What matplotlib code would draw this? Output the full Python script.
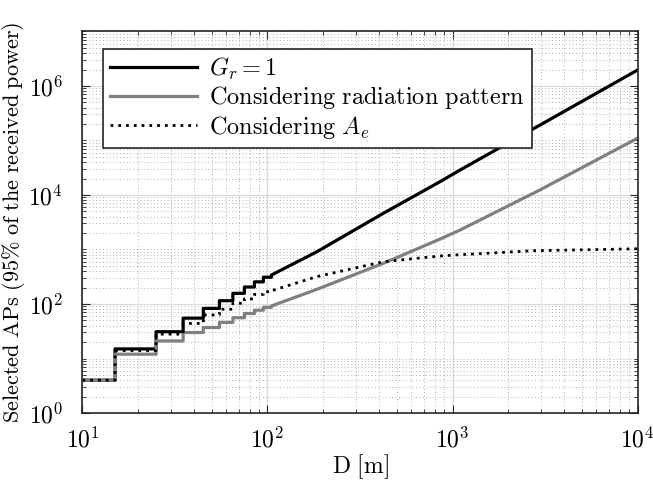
import numpy as np
import matplotlib
matplotlib.use("Agg")
import matplotlib.pyplot as plt
from matplotlib import ticker

plt.rcParams['mathtext.fontset'] = 'cm'

# step region: breakpoints every 10 m, one value per interval
step_edges = [10, 15, 25, 35, 45, 55, 65, 75, 85, 95, 105]
gr1_steps = [4, 15, 31, 55, 83, 115, 157, 205, 255, 310]
rad_steps = [4, 12, 21, 30, 37, 46, 56, 67, 77, 87]
ae_steps = [4, 14, 28, 44, 63, 80, 103, 124, 150, 168]

# smooth region
gr1_d = [105, 185, 423, 855, 1100, 2970, 10000]
gr1_n = [340, 910, 4620, 17500, 28800, 192000, 1960000]
rad_d = [105, 185, 423, 855, 1100, 2970, 10000]
rad_n = [92, 186, 558, 1550, 2280, 12400, 110000]
ae_d = [105, 185, 423, 855, 1050, 2750, 10000]
ae_n = [175, 318, 597, 760, 795, 950, 1030]


def build(steps, d, n):
    xs, ys = [], []
    for i, v in enumerate(steps):
        xs += [step_edges[i], step_edges[i + 1]]
        ys += [v, v]
    xs += d
    ys += n
    return np.array(xs), np.array(ys)


def pow10(v, pos):
    return r'$10^{%d}$' % int(round(np.log10(v)))


fig = plt.figure(figsize=(6.53, 4.86), dpi=100)
ax = fig.add_axes([0.1263, 0.1502, 0.85, 0.785])

x, y = build(gr1_steps, gr1_d, gr1_n)
ax.plot(x, y, color='black', lw=2.3, label=r'$G_r = 1$')
x, y = build(rad_steps, rad_d, rad_n)
ax.plot(x, y, color='#808080', lw=2.3,
        label=r'$\mathrm{Considering\ radiation\ pattern}$')
x, y = build(ae_steps, ae_d, ae_n)
ax.plot(x, y, color='black', lw=2.0, ls=(0, (1, 1.8)),
        label=r'$\mathrm{Considering\ }A_e$')

ax.set_xscale('log')
ax.set_yscale('log')
ax.set_xlim(10, 1e4)
ax.set_ylim(1, 1e7)

ax.xaxis.set_major_locator(ticker.LogLocator(base=10, numticks=20))
ax.xaxis.set_minor_locator(ticker.LogLocator(base=10, subs=np.arange(2, 10), numticks=20))
ax.yaxis.set_major_locator(ticker.LogLocator(base=100, numticks=20))
ax.yaxis.set_minor_locator(ticker.LogLocator(base=10, subs=np.arange(1, 10), numticks=20))
ax.xaxis.set_major_formatter(ticker.FuncFormatter(pow10))
ax.yaxis.set_major_formatter(ticker.FuncFormatter(pow10))
ax.xaxis.set_minor_formatter(ticker.NullFormatter())
ax.yaxis.set_minor_formatter(ticker.NullFormatter())

ax.grid(which='major', color='#dadada', lw=0.9, ls='-')
ax.grid(which='minor', color='#b0b0b0', lw=0.7, ls=(0, (1, 2.5)))
ax.set_axisbelow(True)

ax.tick_params(which='both', direction='in', top=True, right=True,
               colors='#262626', labelcolor='black')
ax.tick_params(which='major', length=6, width=0.8, labelsize=17)
ax.tick_params(axis='x', which='major', pad=10)
ax.tick_params(axis='y', which='major', pad=14)
ax.tick_params(which='minor', length=3, width=0.6)
for s in ax.spines.values():
    s.set_color('#262626')
    s.set_linewidth(1.2)

ax.set_xlabel(r'$\mathrm{D\ [m]}$', fontsize=17, labelpad=0)
ax.set_ylabel(r'$\mathrm{Selected\ APs\ (95\%\ of\ the\ received\ power)}$',
              fontsize=16, labelpad=1)

leg = ax.legend(loc='upper left', bbox_to_anchor=(0.037, 0.954), borderaxespad=0,
                fontsize=17.5, handlelength=3.6, handletextpad=0.5,
                labelspacing=0.1, borderpad=0.28, fancybox=False, framealpha=1)
leg.get_frame().set_edgecolor('#262626')
leg.get_frame().set_linewidth(1.2)

fig.savefig("out.png", dpi=100)
